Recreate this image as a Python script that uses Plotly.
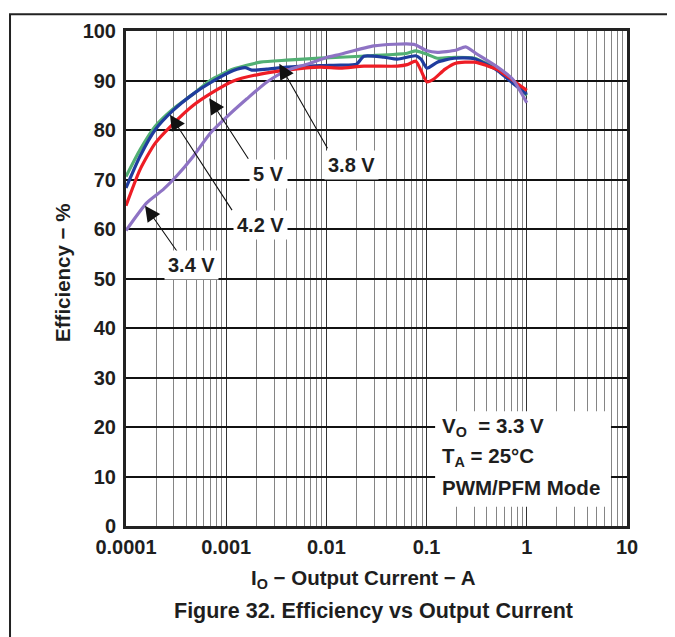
import plotly.graph_objects as go

# ---------------- data ----------------
cur_38 = [0.0001, 0.000138, 0.000195, 0.000297, 0.00047, 0.00069, 0.00118, 0.00219, 0.004,
          0.0087, 0.0138, 0.0275, 0.064, 0.078, 0.101, 0.128, 0.195, 0.3, 0.51, 0.72, 1.0]
eff_38 = [70.6, 76.0, 80.7, 84.3, 87.3, 90.0, 92.3, 93.7, 94.1,
          94.5, 94.7, 95.0, 95.5, 96.0, 95.3, 94.5, 94.7, 94.5, 92.3, 90.0, 87.0]

cur_42 = [0.0001, 0.000138, 0.000195, 0.000297, 0.00047, 0.00069, 0.00118, 0.00155, 0.0018,
          0.00255, 0.004, 0.0087, 0.0138, 0.02, 0.0237, 0.0374, 0.051, 0.078, 0.088, 0.101,
          0.128, 0.188, 0.3, 0.51, 0.72, 1.0]
eff_42 = [68.3, 74.7, 80.0, 84.0, 87.3, 89.5, 92.0, 92.6, 92.1,
          92.3, 92.7, 93.0, 93.1, 93.3, 94.9, 94.7, 94.3, 95.0, 94.3, 92.5,
          93.7, 94.5, 94.4, 92.0, 89.5, 87.2]

cur_5 = [0.0001, 0.000138, 0.000195, 0.000297, 0.00047, 0.00069, 0.00118, 0.00219, 0.004,
         0.0087, 0.0138, 0.0237, 0.051, 0.064, 0.078, 0.088, 0.101, 0.118, 0.153, 0.195,
         0.3, 0.40, 0.51, 0.72, 1.0]
eff_5 = [64.7, 72.0, 77.3, 81.3, 85.0, 87.3, 89.9, 91.3, 92.1,
         92.7, 92.5, 92.9, 92.9, 93.2, 93.9, 92.0, 89.7, 90.3, 92.3, 93.5,
         93.7, 93.0, 92.2, 90.1, 88.0]

cur_34 = [0.0001, 0.000161, 0.000236, 0.00032, 0.00047, 0.00069, 0.00102, 0.00161, 0.00255,
          0.004, 0.0064, 0.0102, 0.0138, 0.0297, 0.0746, 0.101, 0.128, 0.195, 0.245, 0.32,
          0.51, 0.72, 1.0]
eff_34 = [59.7, 65.3, 68.0, 70.7, 74.7, 79.3, 82.7, 86.3, 89.7,
          92.0, 93.3, 94.7, 95.3, 97.0, 97.3, 96.0, 95.7, 96.1, 96.8, 95.3,
          92.7, 90.3, 85.5]

x_tickvals = [0.0001, 0.001, 0.01, 0.1, 1, 10]
x_ticktext = ["0.0001", "0.001", "0.01", "0.1", "1", "10"]
y_tickvals = [0, 10, 20, 30, 40, 50, 60, 70, 80, 90, 100]

# curve labels: text, text position (log10 I, eff), arrow tip (log10 I, eff), arrow tail offset px
labels = [
    ("5 V",   -2.573, 71.2, -3.169, 86.4, 40, 62),
    ("4.2 V", -2.653, 60.9, -3.561, 83.1, 63, 97),
    ("3.4 V", -3.346, 52.8, -3.810, 64.7, 33, 47),
    ("3.8 V", -1.754, 73.0, -2.470, 93.4, 49, 86),
]

FONT = "Liberation Sans, Arial, Helvetica, sans-serif"
TXT = "#1e1e1e"

fig = go.Figure()
series = [
    ("3.8 V", cur_38, eff_38, "#52b074"),
    ("4.2 V", cur_42, eff_42, "#1f3c9e"),
    ("5 V", cur_5, eff_5, "#ee1d25"),
    ("3.4 V", cur_34, eff_34, "#8e73c4"),
]
for name, xs, ys, col in series:
    fig.add_trace(go.Scatter(x=xs, y=ys, mode="lines", name=name,
                             line=dict(color=col, width=3.2, shape="spline", smoothing=0.6)))

minor_vals = [m * 10 ** e for e in range(-4, 1) for m in range(2, 10)]

fig.update_xaxes(type="log", range=[-4, 1], tickvals=x_tickvals, ticktext=x_ticktext,
                 showgrid=True, gridcolor="#333333", gridwidth=1.2,
                 minor=dict(tickvals=minor_vals, showgrid=True, gridcolor="#858585", gridwidth=1.2),
                 showline=True, mirror=True, linecolor="#222222", linewidth=3,
                 ticks="", ticklen=0, ticklabelstandoff=1, zeroline=False,
                 tickfont=dict(family=FONT, size=20, color=TXT, weight="bold"))
fig.update_yaxes(range=[0, 100], tickvals=y_tickvals,
                 showgrid=True, gridcolor="#111111", gridwidth=1.5,
                 showline=True, mirror=True, linecolor="#222222", linewidth=3,
                 ticks="", ticklen=0, ticklabelstandoff=3, zeroline=False,
                 tickfont=dict(family=FONT, size=20, color=TXT, weight="bold"))

ann = []
for text, tx, ty, hx, hy, ax, ay in labels:
    ann.append(dict(x=hx, y=hy, xref="x", yref="y", text="", showarrow=True,
                    ax=ax, ay=ay, arrowhead=2, arrowsize=2.8, arrowwidth=1.1,
                    arrowcolor="#111111", standoff=0))
    ann.append(dict(x=tx, y=ty, xref="x", yref="y", text=text, showarrow=False,
                    bgcolor="white", borderpad=3,
                    font=dict(family=FONT, size=20, color=TXT, weight="bold")))

# conditions box
cond = ["V<sub>O</sub>  = 3.3 V", "T<sub>A</sub> = 25°C", "PWM/PFM Mode"]
cond_y = [0.201, 0.140, 0.078]
for t, yy in zip(cond, cond_y):
    ann.append(dict(x=0.627, y=yy, xref="paper", yref="paper", text=t, showarrow=False,
                    xanchor="left", yanchor="middle",
                    font=dict(family=FONT, size=20.5, color=TXT, weight="bold")))

# axis titles and caption
ann.append(dict(x=-0.127, y=0.512, xref="paper", yref="paper", text="Efficiency − %",
                textangle=-90, showarrow=False, xanchor="center", yanchor="middle",
                font=dict(family=FONT, size=20.5, color=TXT, weight="bold")))
ann.append(dict(x=0.475, y=-0.108, xref="paper", yref="paper",
                text="I<sub>O</sub> − Output Current − A", showarrow=False,
                xanchor="center", yanchor="middle",
                font=dict(family=FONT, size=20.5, color=TXT, weight="bold")))
ann.append(dict(x=0.495, y=-0.172, xref="paper", yref="paper",
                text="Figure 32. Efficiency vs Output Current", showarrow=False,
                xanchor="center", yanchor="middle",
                font=dict(family=FONT, size=21.5, color=TXT, weight="bold")))

shapes = [
    # white background of conditions box
    dict(type="rect", xref="paper", yref="paper", x0=0.617, x1=0.968, y0=0.039, y1=0.232,
         fillcolor="white", line=dict(width=0), layer="above"),
    # outer figure frame
    dict(type="rect", xref="paper", yref="paper", x0=-0.2315, x1=1.3, y0=-0.4, y1=1.034,
         fillcolor="rgba(0,0,0,0)", line=dict(color="#222222", width=2), layer="below"),
]

# page body has an 8px margin, so the figure is offset by 8px; size compensates
fig.update_layout(width=667, height=629, margin=dict(l=118, r=48, t=18, b=111),
                  paper_bgcolor="white", plot_bgcolor="white", showlegend=False,
                  annotations=ann, shapes=shapes)

fig.write_html("out.html")
